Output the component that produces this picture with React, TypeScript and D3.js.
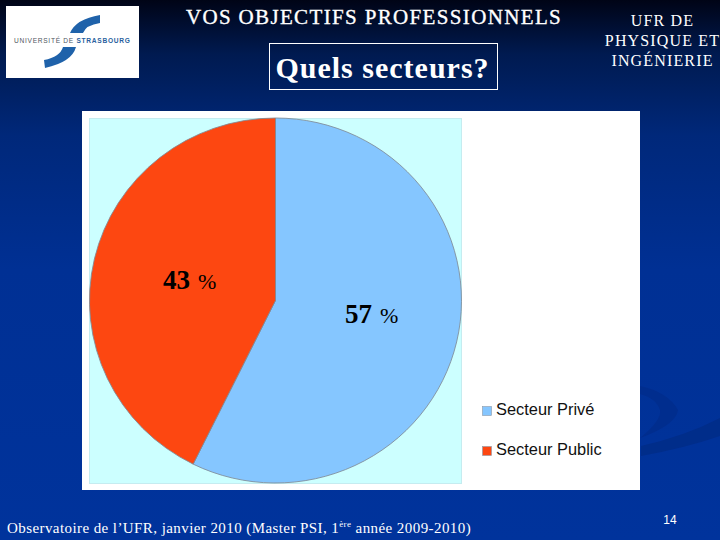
import React from "react";
import * as d3 from "d3";

const categories = ["Secteur Privé", "Secteur Public"];
const shares = [57.3, 42.7];
const sliceColors = ["#85c6ff", "#fd4711"];
const titleLines = ["UFR DE", "PHYSIQUE ET", "INGÉNIERIE"];

const W = 720;
const H = 540;
const cx = 275.5;
const cy = 300.5;
const radius = 186;
const squash = 182.5 / 186;

export default function App() {
  const pie = d3.pie<number>().sort(null).value((d) => d)(shares);
  const arc = d3.arc<d3.PieArcDatum<number>>().innerRadius(0).outerRadius(radius);
  const serif = "'Liberation Serif', 'Times New Roman', serif";
  const sans = "'Liberation Sans', Arial, sans-serif";
  return (
    <svg
      width={W}
      height={H}
      viewBox={`0 0 ${W} ${H}`}
      style={{ position: "fixed", left: 0, top: 0, display: "block" }}
    >
      <defs>
        <linearGradient id="bg" x1="0" y1="0" x2="0" y2="1">
          <stop offset="0" stopColor="#000416" />
          <stop offset="0.1" stopColor="#001a50" />
          <stop offset="0.25" stopColor="#00287a" />
          <stop offset="0.5" stopColor="#003094" />
          <stop offset="1" stopColor="#00339c" />
        </linearGradient>
      </defs>
      <rect width={W} height={H} fill="url(#bg)" />
      {/* background swoosh */}
      <path d="M640 386 Q668 392 678 410 Q676 425 640 438 Q662 420 660 410 Q656 398 640 394 Z" fill="#002d8e" />
      <path d="M641 446 Q685 436 720 418 L720 436 Q685 448 641 456 Z" fill="#002d8a" />

      {/* logo */}
      <rect x={6} y={6} width={133} height={72} fill="#ffffff" />
      <path d="M70 33 Q76 19 100 15 L100 23 Q86 25 83 33 Z" fill="#1f62aa" />
      <path d="M63 47 L76 47 Q72 62 45 68 L44 60 Q60 57 63 47 Z" fill="#1f62aa" />
      <text x={14} y={43} fontFamily={sans} fontSize={6.6} letterSpacing={0.72} fill="#4d5560">
        UNIVERSITÉ DE <tspan fill="#2a5f9e" fontWeight="bold">STRASBOURG</tspan>
      </text>

      {/* headings */}
      <text x={374} y={24} textAnchor="middle" fontFamily={serif} fontSize={21} letterSpacing={1.35} fill="#ffffff" stroke="#ffffff" strokeWidth={0.35}>
        VOS OBJECTIFS PROFESSIONNELS
      </text>
      <rect x={269.5} y={43.5} width={228} height={46} fill="none" stroke="#ffffff" strokeWidth={1} />
      <text x={382.5} y={78} textAnchor="middle" fontFamily={serif} fontSize={30} fontWeight="bold" letterSpacing={1} fill="#ffffff">
        Quels secteurs?
      </text>
      {titleLines.map((t, i) => (
        <text key={t} x={662.5} y={26 + i * 20} textAnchor="middle" fontFamily={serif} fontSize={16} letterSpacing={1.15} fill="#ffffff">
          {t}
        </text>
      ))}

      {/* chart card */}
      <rect x={82} y={111} width={558} height={379} fill="#ffffff" />
      <rect x={89.5} y={118.5} width={372} height={365} fill="#ccffff" stroke="#c5ecf0" strokeWidth={1} />
      <g transform={`translate(${cx},${cy}) scale(1,${squash})`}>
        {pie.map((s, i) => (
          <path key={categories[i]} d={arc(s) ?? ""} fill={sliceColors[i]} stroke="#808a96" strokeWidth={1} strokeOpacity={0.85} />
        ))}
      </g>

      {/* slice labels */}
      <text x={163} y={289} fontFamily={serif} fill="#000000">
        <tspan fontSize={27} fontWeight="bold">{Math.round(shares[1])}</tspan>
        <tspan fontSize={22} dx={8}>%</tspan>
      </text>
      <text x={345} y={323} fontFamily={serif} fill="#000000">
        <tspan fontSize={27} fontWeight="bold">{Math.round(shares[0])}</tspan>
        <tspan fontSize={22} dx={8}>%</tspan>
      </text>

      {/* legend */}
      {categories.map((c, i) => (
        <g key={c}>
          <rect x={482.5} y={406.5 + i * 40} width={9} height={9} fill={sliceColors[i]} stroke="#8a9aa8" strokeWidth={0.6} />
          <text x={496} y={415 + i * 40} fontFamily={sans} fontSize={16.4} fill="#111111">
            {c}
          </text>
        </g>
      ))}

      {/* footer */}
      <text x={7} y={533} fontFamily={serif} fontSize={15} letterSpacing={0.42} fill="#ffffff">
        Observatoire de l’UFR, janvier 2010 (Master PSI, 1
        <tspan fontSize={9} dy={-6}>ère</tspan>
        <tspan dy={6}> année 2009-2010)</tspan>
      </text>
      <text x={670} y={524} textAnchor="middle" fontFamily={sans} fontSize={12} fill="#ffffff">
        14
      </text>
    </svg>
  );
}
